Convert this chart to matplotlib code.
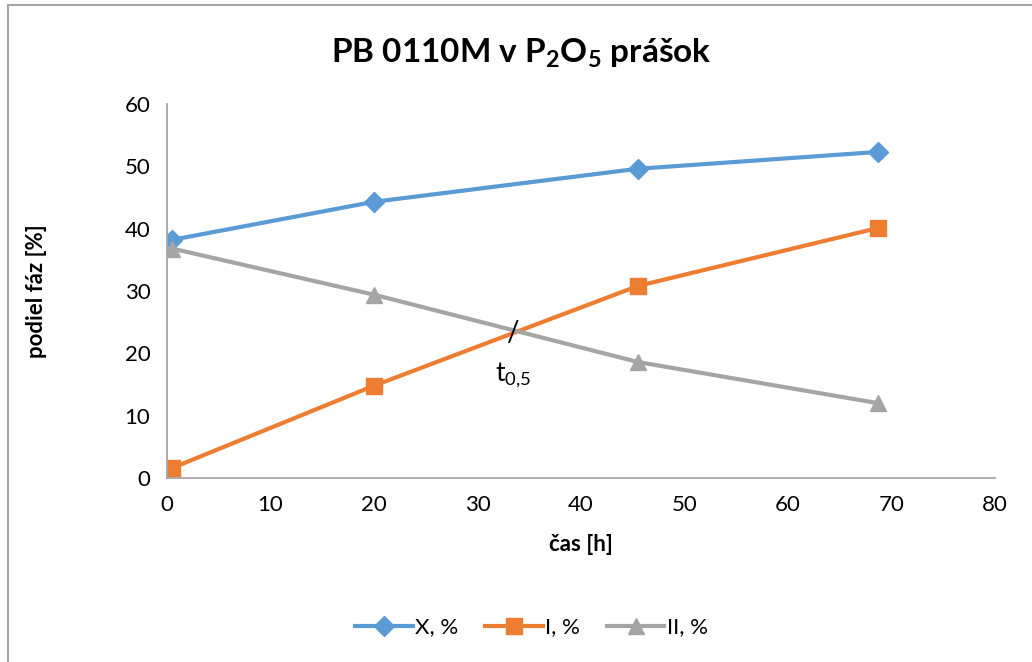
import matplotlib
matplotlib.use('Agg')
import matplotlib.pyplot as plt
from matplotlib.patches import Rectangle

plt.rcParams['font.family'] = ['Lato', 'DejaVu Sans']
plt.rcParams['mathtext.fontset'] = 'custom'
plt.rcParams['mathtext.rm'] = 'Lato'
plt.rcParams['mathtext.bf'] = 'Lato:bold'

# namerane podiely faz v case
cas = [0.5, 20, 45.5, 68.7]
faza_x = [38.2, 44.3, 49.6, 52.3]
faza_i = [1.6, 14.8, 30.8, 40.1]
faza_ii = [36.8, 29.4, 18.6, 12.0]

# bod polovicnej premeny
t05_x, t05_y = 33.4, 23.3

fig = plt.figure(figsize=(10.32, 6.62), dpi=100)
ax = fig.add_axes([0.1618, 0.278, 0.8023, 0.565])

ax.plot(cas, faza_x, color='#5B9BD5', linewidth=3, marker='D', markersize=10, label='X, %')
ax.plot(cas, faza_i, color='#ED7D31', linewidth=3, marker='s', markersize=11, label='I, %')
ax.plot(cas, faza_ii, color='#A5A5A5', linewidth=3, marker='^', markersize=11, label='II, %')

ax.text(t05_x, t05_y, '/', fontsize=20, ha='center', va='center')
ax.text(t05_x, t05_y - 6.8, r'$\mathregular{t_{0{,}5}}$', fontsize=19, ha='center', va='center')

ax.set_xlim(0, 80)
ax.set_ylim(0, 60)
ax.set_xticks(range(0, 81, 10))
ax.set_yticks(range(0, 61, 10))
ax.tick_params(length=0, labelsize=16, pad=12)
for s in ['top', 'right']:
    ax.spines[s].set_visible(False)
for s in ['left', 'bottom']:
    ax.spines[s].set_color('#A6A6A6')
    ax.spines[s].set_linewidth(1.3)

ax.set_xlabel('čas [h]', fontsize=16, fontweight='bold', labelpad=14)
ax.set_ylabel('podiel fáz [%]', fontsize=16, fontweight='bold', labelpad=56)

fig.text(0.505, 0.92, r'PB 0110M v P$\mathbf{_2}$O$\mathbf{_5}$ prášok',
         fontsize=24, fontweight='bold', ha='center', va='center')

fig.legend(loc='center', bbox_to_anchor=(0.515, 0.052), ncol=3, frameon=False,
           fontsize=16, handlelength=2.6, columnspacing=1.2, handletextpad=0.1)

# ramik okolo grafu
fig.patches.append(Rectangle((8 / 1032, -0.1), 1.2, 1 - 5 / 662 + 0.1,
                             transform=fig.transFigure, fill=False,
                             edgecolor='#A6A6A6', linewidth=1.5))

fig.savefig('out.png', dpi=100)
